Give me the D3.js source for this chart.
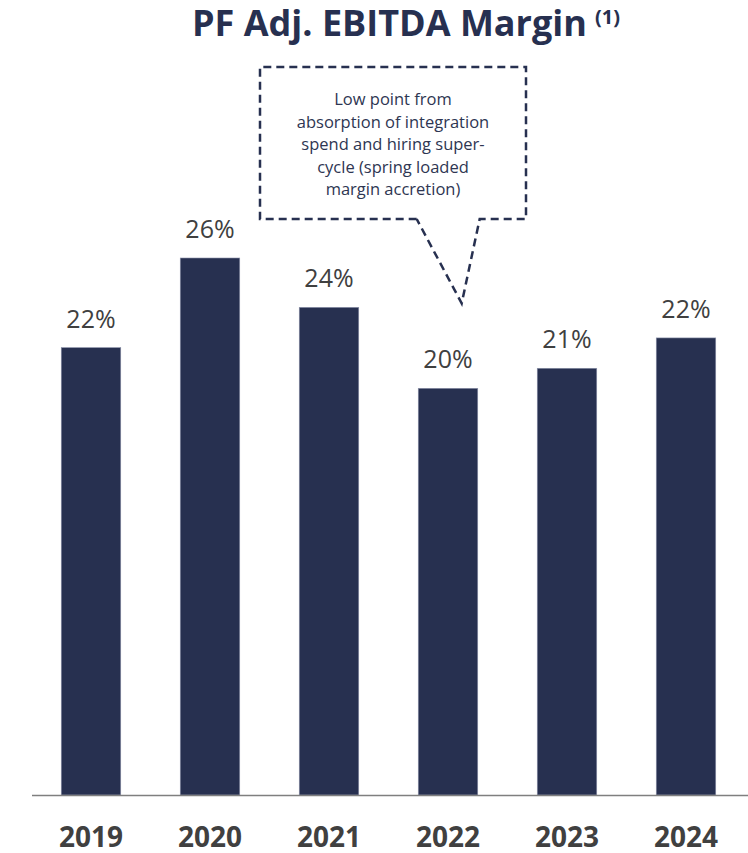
<!DOCTYPE html>
<html>
<head>
<meta charset="utf-8">
<script src="https://cdn.jsdelivr.net/npm/d3@7"></script>
<style>
  body { margin: 0; background: #fff; }
  svg { display: block; font-family: "Open Sans", "Noto Sans", sans-serif; }
</style>
</head>
<body>
<div id="chart"></div>
<script>
// data
var years = ["2019", "2020", "2021", "2022", "2023", "2024"];
var margins = [0.2166, 0.26, 0.2361, 0.1969, 0.2066, 0.2213];
var noteLines = [
  "Low point from",
  "absorption of integration",
  "spend and hiring super-",
  "cycle (spring loaded",
  "margin accretion)"
];
var noteYear = "2022";

var width = 748, height = 853;
var navy = "#273050";
var baseline = 795;

var svg = d3.select("#chart").append("svg")
  .attr("width", width)
  .attr("height", height);

var x = d3.scaleBand()
  .domain(years)
  .range([31.5, 745.5])
  .paddingInner(0.5)
  .paddingOuter(0.25);

var y = d3.scaleLinear()
  .domain([0, 0.26])
  .range([baseline, 258]);

// title
var title = svg.append("text")
  .attr("x", 192)
  .attr("y", 36)
  .attr("fill", navy)
  .style("font-weight", 700)
  .style("font-size", "36px");
title.append("tspan").text("PF Adj. EBITDA Margin");
title.append("tspan")
  .attr("dx", 8)
  .attr("dy", -12)
  .style("font-size", "20px")
  .text("(1)");

// bars
svg.selectAll("rect.bar")
  .data(years)
  .join("rect")
  .attr("class", "bar")
  .attr("x", function(d) { return x(d); })
  .attr("width", x.bandwidth())
  .attr("y", function(d, i) { return y(margins[i]); })
  .attr("height", function(d, i) { return baseline - y(margins[i]); })
  .attr("fill", navy)
  .attr("stroke", "#8a90a8")
  .attr("stroke-width", 0.6);

// value labels
svg.selectAll("text.val")
  .data(years)
  .join("text")
  .attr("class", "val")
  .attr("x", function(d) { return x(d) + x.bandwidth() / 2; })
  .attr("y", function(d, i) { return y(margins[i]) - 20; })
  .attr("text-anchor", "middle")
  .attr("fill", "#404040")
  .style("font-size", "25px")
  .text(function(d, i) { return d3.format(".0%")(margins[i]); });

// x axis
var xAxis = d3.axisBottom(x).tickSize(0).tickPadding(0);
var gx = svg.append("g")
  .attr("transform", "translate(0," + baseline + ")")
  .call(xAxis);
gx.select(".domain").remove();
gx.append("line")
  .attr("x1", 32).attr("x2", width)
  .attr("y1", 0.5).attr("y2", 0.5)
  .attr("stroke", "#7f7f7f")
  .attr("stroke-width", 1.5);
gx.selectAll(".tick text")
  .attr("y", 52)
  .attr("dy", 0)
  .attr("fill", "#404040")
  .style("font-family", "'Open Sans', sans-serif")
  .style("font-size", "28px")
  .style("font-weight", 700);

// callout box pointing at the 2022 low point
var ni = years.indexOf(noteYear);
var tipX = x(noteYear) + x.bandwidth() * 0.73;
var tipY = y(margins[ni]) - 85;
var boxL = 260, boxR = 526, boxT = 67, boxB = 219;
var gapL = tipX - 45, gapR = tipX + 18;

var path = d3.path();
path.moveTo(gapL, boxB);
path.lineTo(boxL, boxB);
path.lineTo(boxL, boxT);
path.lineTo(boxR, boxT);
path.lineTo(boxR, boxB);
path.lineTo(gapR, boxB);
path.lineTo(tipX, tipY);
path.lineTo(gapL, boxB);

svg.append("path")
  .attr("d", path.toString())
  .attr("fill", "none")
  .attr("stroke", navy)
  .attr("stroke-width", 2.5)
  .attr("stroke-dasharray", "8,5");

svg.append("g")
  .selectAll("text")
  .data(noteLines)
  .join("text")
  .attr("x", (boxL + boxR) / 2)
  .attr("y", function(d, i) { return 105 + i * 22.5; })
  .attr("text-anchor", "middle")
  .attr("fill", "#2e3652")
  .style("font-size", "16.5px")
  .text(function(d) { return d; });
</script>
</body>
</html>
